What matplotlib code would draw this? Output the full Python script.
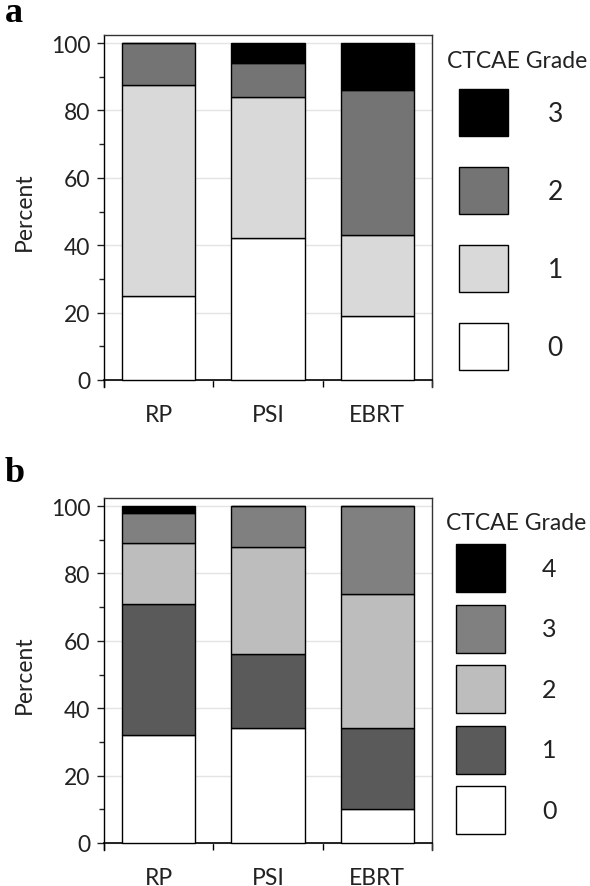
import numpy as np
import matplotlib
matplotlib.use("Agg")
import matplotlib.pyplot as plt
from matplotlib.patches import Patch
from matplotlib.ticker import MultipleLocator, FixedLocator

plt.rcParams['font.family'] = ['Lato', 'DejaVu Sans']

# Data
groups = ["RP", "PSI", "EBRT"]

# panel a: grades 0..3
a_grades = ["0", "1", "2", "3"]
a_g0 = [25, 42, 19]
a_g1 = [62.5, 42, 24]
a_g2 = [12.5, 10, 43]
a_g3 = [0, 6, 14]
a_colors = ["#ffffff", "#d9d9d9", "#747474", "#000000"]

# panel b: grades 0..4
b_grades = ["0", "1", "2", "3", "4"]
b_g0 = [32, 34, 10]
b_g1 = [39, 22, 24]
b_g2 = [18, 32, 40]
b_g3 = [9, 12, 26]
b_g4 = [2, 0, 0]
b_colors = ["#ffffff", "#5a5a5a", "#bdbdbd", "#808080", "#000000"]

W, H = 590, 887
fig = plt.figure(figsize=(W / 100, H / 100), dpi=100)


def px_axes(left, top, right, bottom):
    return fig.add_axes([left / W, 1 - bottom / H, (right - left) / W, (bottom - top) / H])


def draw_panel(ax, series, colors):
    x = np.arange(len(groups))
    bottom = np.zeros(len(groups))
    for vals, c in zip(series, colors):
        vals = np.array(vals, dtype=float)
        ax.bar(x, vals, width=0.67, bottom=bottom, color=c,
               edgecolor="black", linewidth=1.0, zorder=3)
        bottom += vals

    ax.set_xlim(-0.5, len(groups) - 0.5)
    ax.set_ylim(-2.1, 102.4)

    # axis lines
    for s in ["left", "top", "right"]:
        ax.spines[s].set_color("#333333")
        ax.spines[s].set_linewidth(1.0)
    ax.spines["bottom"].set_position(("data", 0))
    ax.spines["bottom"].set_linewidth(1.2)
    ax.spines["bottom"].set_color("black")
    ax.spines["left"].set_color("black")

    ax.yaxis.set_major_locator(MultipleLocator(20))
    ax.yaxis.set_minor_locator(MultipleLocator(10))
    ax.tick_params(axis="y", which="major", length=5, width=1.0,
                   labelsize=16.5, pad=5, colors="#222222")
    ax.tick_params(axis="y", which="minor", length=3.5, width=1.0, color="#222222")

    ax.set_xticks(x)
    ax.set_xticklabels(groups)
    ax.xaxis.set_minor_locator(FixedLocator(np.arange(len(groups) + 1) - 0.5))
    ax.tick_params(axis="x", which="major", length=0, labelsize=16.5, pad=17,
                   labelcolor="#222222")
    ax.tick_params(axis="x", which="minor", length=5, width=1.0, direction="out")

    ax.grid(axis="y", which="major", color="#e4e4e4", linewidth=1.0, zorder=0)
    ax.set_axisbelow(True)

    ax.set_ylabel("Percent", fontsize=16.5, color="#222222")
    ax.yaxis.set_label_coords(-0.21, 0.5)


def grade_legend(grades, colors, fs_pt, box_px, pitch_px, left_px, top_px, pad):
    # legend patch height = fs*(hh - 0.35*(hh - 0.7)); solve for handleheight
    fs = fs_pt * 100 / 72
    hh = (box_px / fs - 0.245) / 0.65
    spacing = (pitch_px - box_px) / fs
    handles = [Patch(facecolor=c, edgecolor="black", linewidth=1.0, label=g)
               for g, c in zip(grades, colors)][::-1]
    fig.legend(handles=handles, loc="upper left",
               bbox_to_anchor=(left_px / W, 1 - top_px / H),
               frameon=False, fontsize=fs_pt, handlelength=49 / fs,
               handleheight=hh, labelspacing=spacing, handletextpad=pad,
               borderpad=0, borderaxespad=0, labelcolor="#222222")


# panel a
ax_a = px_axes(104, 36, 432, 388)
draw_panel(ax_a, [a_g0, a_g1, a_g2, a_g3], a_colors)
grade_legend(a_grades, a_colors, 19, 47, 78, 459, 90, 1.5)
fig.text(517 / W, 1 - 62 / H, "CTCAE Grade", fontsize=16.5, ha="center", va="center",
         color="#222222")
fig.text(5 / W, 1 - 22 / H, "a", fontsize=26, fontweight="bold",
         family="Liberation Serif", va="baseline")

# panel b
ax_b = px_axes(104, 499, 432, 851)
draw_panel(ax_b, [b_g0, b_g1, b_g2, b_g3, b_g4], b_colors)
grade_legend(b_grades, b_colors, 18, 48, 60.5, 456, 545, 1.48)
fig.text(516 / W, 1 - 523 / H, "CTCAE Grade", fontsize=16.5, ha="center", va="center",
         color="#222222")
fig.text(5 / W, 1 - 482 / H, "b", fontsize=26, fontweight="bold",
         family="Liberation Serif", va="baseline")

fig.savefig("out.png", dpi=100, facecolor="white")
